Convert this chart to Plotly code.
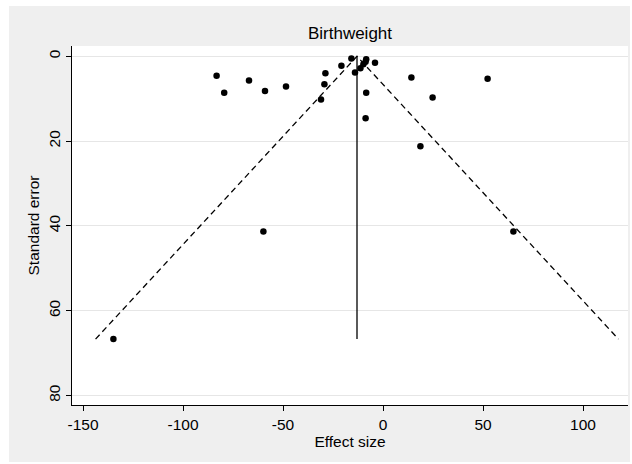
import plotly.graph_objects as go

# Study-level effect sizes and their standard errors
effect_size = [-83.2, -79.4, -67.0, -59.0, -48.5, -15.8, -20.8, -28.8, -29.3, -31.0,
               -8.4, -8.7, -9.8, -11.3, -14.0, -4.0, -8.4, -8.7, 14.2, 24.8,
               52.3, -59.8, -134.8, 65.2, 18.7]
std_error = [4.6, 8.6, 5.7, 8.2, 7.1, 0.5, 2.2, 4.0, 6.6, 10.2,
             0.7, 1.3, 1.9, 2.8, 3.8, 1.5, 8.6, 14.6, 5.0, 9.7,
             5.3, 41.3, 66.7, 41.3, 21.2]

# Pooled estimate and pseudo 95% confidence limits
pooled = -13.0
z95 = 1.96
se_max = max(std_error)

x_ticks = [-150, -100, -50, 0, 50, 100]
x_tick_labels = ["-150", "-100", "-50", "0", "50", "100"]
y_ticks = [0, 20, 40, 60, 80]

FONT = "Liberation Sans, Arial, Helvetica, sans-serif"
TICK_SIZE = 15.5

fig = go.Figure()

# Funnel limits (dashed)
fig.add_trace(go.Scatter(
    x=[pooled - z95 * se_max, pooled, pooled + z95 * se_max],
    y=[se_max, 0, se_max],
    mode="lines",
    line=dict(color="black", width=1.3, dash="6px,4px"),
    hoverinfo="skip", showlegend=False,
))

# Pooled estimate line
fig.add_trace(go.Scatter(
    x=[pooled, pooled],
    y=[0, se_max],
    mode="lines",
    line=dict(color="black", width=1.3),
    hoverinfo="skip", showlegend=False,
))

# Studies
fig.add_trace(go.Scatter(
    x=effect_size, y=std_error,
    mode="markers",
    marker=dict(color="black", size=6.5, line=dict(width=0)),
    showlegend=False,
))

fig.update_layout(
    width=632, height=464,
    margin=dict(l=72, r=4, t=46, b=58.5, pad=0),
    paper_bgcolor="white",
    plot_bgcolor="white",
    font=dict(family=FONT, color="black", size=TICK_SIZE),
    title=dict(text="Birthweight", x=0.5, xref="paper", xanchor="center",
               y=1 - 33 / 464, yanchor="middle",
               font=dict(family=FONT, size=17, color="black")),
    shapes=[
        # outer graph region
        dict(type="rect", xref="paper", yref="paper",
             x0=(9 - 72) / 556, x1=(630 - 72) / 556,
             y0=(405.5 - 462.5) / 359.5, y1=(405.5 - 6) / 359.5,
             fillcolor="#efefef", line=dict(width=0), layer="below"),
        # plot region
        dict(type="rect", xref="paper", yref="paper",
             x0=0, x1=1, y0=0, y1=1,
             fillcolor="white", line=dict(width=0), layer="below"),
    ],
)

fig.update_xaxes(
    range=[-155.5, 122.5],
    tickvals=x_ticks, ticktext=x_tick_labels,
    ticks="outside", ticklen=5, tickwidth=1, tickcolor="black",
    showline=True, linecolor="black", linewidth=1,
    showgrid=False, zeroline=False,
    tickfont=dict(size=TICK_SIZE, family=FONT, color="black"),
    title=dict(text="Effect size", font=dict(size=TICK_SIZE, family=FONT, color="black"), standoff=3),
)

fig.update_yaxes(
    range=[82.24, -2.43],
    tickvals=y_ticks,
    tickangle=-90,
    ticks="outside", ticklen=5, tickwidth=1, tickcolor="black",
    showline=True, linecolor="black", linewidth=1,
    showgrid=True, gridcolor="#e6e6e6", gridwidth=1,
    zeroline=False,
    tickfont=dict(size=TICK_SIZE, family=FONT, color="black"),
    title=dict(text="Standard error", font=dict(size=TICK_SIZE, family=FONT, color="black"), standoff=2),
)

fig.write_html("out.html")
